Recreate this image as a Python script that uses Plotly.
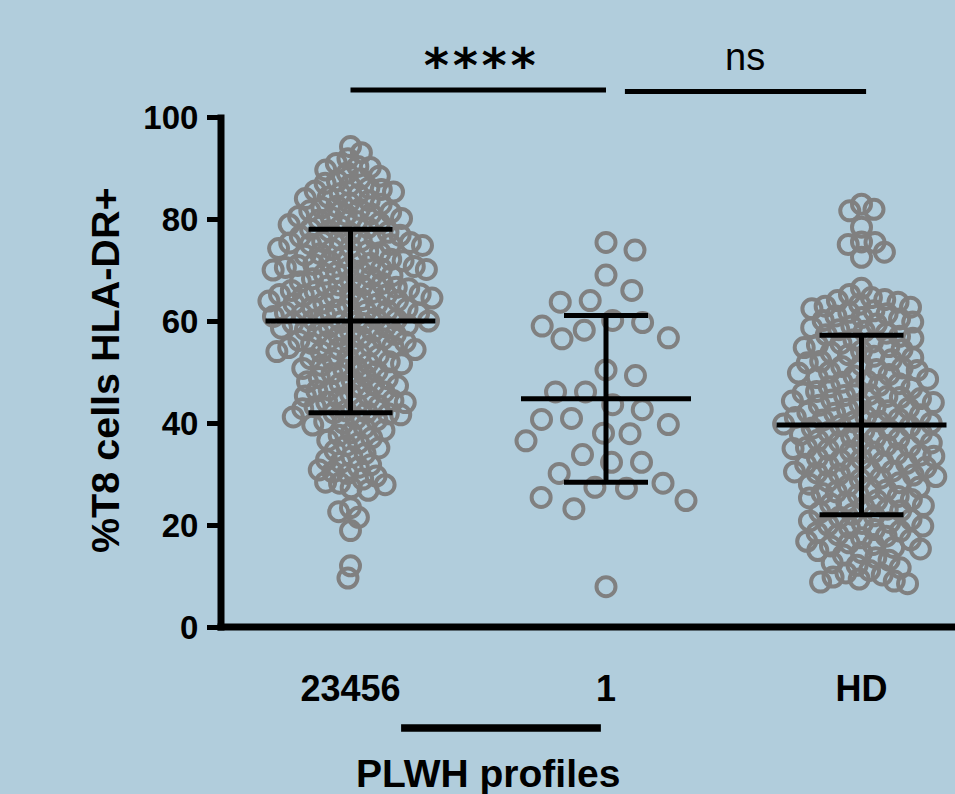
import math
import plotly.graph_objects as go

# ---------------- data ----------------
CATEGORIES = ["23456", "1", "HD"]

G_23456 = [
    94.2, 93.0, 91.8, 90.9, 90.3, 90.1,
    89.6, 89.0, 88.4, 87.9, 87.5, 87.0, 86.6, 86.1, 85.8, 85.5, 85.3, 85.0,
    84.8, 84.3, 84.0, 83.6, 83.2, 82.9, 82.5, 82.2, 81.9, 81.6, 81.3, 81.0, 80.8, 80.5, 80.3, 80.1,
    79.8, 79.5, 79.2, 78.9, 78.6, 78.3, 78.0, 77.7, 77.4, 77.1, 76.8, 76.6, 76.3, 76.0, 75.8, 75.6,
    75.4, 75.3, 75.1, 75.0,
    74.8, 74.5, 74.2, 74.0, 73.7, 73.4, 73.2, 72.9, 72.6, 72.3, 72.1, 71.8, 71.6, 71.3, 71.1, 70.9,
    70.7, 70.5, 70.4, 70.2, 70.1, 70.0,
    69.8, 69.5, 69.2, 68.9, 68.6, 68.3, 68.0, 67.7, 67.4, 67.1, 66.9, 66.8, 66.6, 66.3, 66.0, 65.8,
    65.6, 65.4, 65.3, 65.2, 65.1, 65.0,
    64.8, 64.5, 64.2, 64.0, 63.9, 63.6, 63.4, 63.3, 63.0, 62.7, 62.4, 62.1, 62.0, 61.9, 61.6, 61.5,
    61.3, 61.1, 60.9, 60.7, 60.5, 60.3, 60.2, 60.0,
    59.8, 59.6, 59.5, 59.2, 58.9, 58.8, 58.6, 58.3, 58.0, 57.9, 57.7, 57.4, 57.1, 56.8, 56.5, 56.2,
    56.0, 55.9, 55.6, 55.3, 55.1, 55.0,
    54.8, 54.6, 54.4, 54.0, 53.9, 53.6, 53.2, 52.8, 52.6, 52.4, 52.0, 51.8, 51.6, 51.3, 51.0, 50.7,
    50.4, 50.1,
    49.7, 49.3, 48.9, 48.7, 48.5, 48.1, 47.7, 47.5, 47.3, 46.9, 46.5, 46.3, 46.1, 45.7, 45.3, 45.0,
    44.8, 44.4, 44.1, 44.0, 43.6, 43.4, 43.2, 42.8, 42.4, 42.1, 42.0, 41.8, 41.6, 41.2, 40.9, 40.6,
    40.3, 40.0,
    39.6, 39.1, 38.6, 38.1, 37.6, 37.1, 36.6, 36.1, 35.6, 35.1,
    34.6, 34.0, 33.4, 32.8, 32.3, 31.8, 31.3, 30.8, 30.4, 30.1,
    29.6, 29.0, 28.4, 28.2, 27.9, 27.3, 26.8,
    23.4, 22.6, 21.5,
    18.9, 12.0, 9.6,
]

G_1 = [
    75.4, 73.9, 69.0, 66.0, 64.0, 63.7, 60.1, 59.0, 59.7, 58.2, 56.5, 56.7,
    50.4, 49.3, 46.1, 46.1, 43.6, 42.6, 39.7, 40.7, 40.9, 38.0, 37.9, 36.5,
    33.8, 32.3, 32.3, 30.1, 28.2, 27.2, 27.4, 25.4, 24.8, 23.2, 7.9,
]

G_HD = [
    82.9, 81.9, 81.6,
    78.4, 75.5, 75.4, 75.0,
    73.5, 72.5,
    66.4, 65.2,
    64.6, 64.2, 64.0, 63.7, 63.3, 62.9, 62.7, 62.4, 62.0, 61.7, 61.4, 61.0, 60.7, 60.4, 60.1,
    59.8, 59.4, 59.0, 58.7, 58.3, 58.0, 57.6, 57.3, 57.0, 56.6, 56.3, 55.9, 55.6, 55.3, 55.0,
    54.8, 54.4, 54.1, 53.8, 53.4, 53.1, 52.8, 52.4, 52.1, 51.8, 51.4, 51.1, 50.8, 50.5, 50.3, 50.0,
    49.8, 49.5, 49.2, 48.9, 48.6, 48.3, 48.0, 47.7, 47.4, 47.1, 46.8, 46.5, 46.2, 45.9, 45.6, 45.4,
    45.2, 45.0,
    44.8, 44.5, 44.3, 44.0, 43.7, 43.5, 43.2, 42.9, 42.7, 42.4, 42.1, 41.9, 41.6, 41.3, 41.1, 40.8,
    40.6, 40.4, 40.2, 40.0,
    39.8, 39.5, 39.3, 39.0, 38.7, 38.5, 38.2, 37.9, 37.7, 37.4, 37.1, 36.9, 36.6, 36.3, 36.1, 35.8,
    35.6, 35.4, 35.2, 35.0,
    34.8, 34.5, 34.3, 34.0, 33.7, 33.5, 33.2, 32.9, 32.7, 32.4, 32.1, 31.9, 31.6, 31.3, 31.1, 30.8,
    30.6, 30.4, 30.2, 30.0,
    29.8, 29.5, 29.2, 28.9, 28.6, 28.3, 28.0, 27.7, 27.4, 27.1, 26.8, 26.5, 26.2, 25.9, 25.6, 25.3,
    25.0,
    24.8, 24.5, 24.1, 23.8, 23.5, 23.1, 22.8, 22.5, 22.1, 21.8, 21.5, 21.1, 20.8, 20.5, 20.3, 20.0,
    19.8, 19.5, 19.1, 18.8, 18.5, 18.1, 17.8, 17.5, 17.1, 16.8, 16.5, 16.2, 15.9, 15.6, 15.3, 15.0,
    14.6, 14.1, 13.6, 13.1, 12.6, 12.1, 11.6, 11.1, 10.6, 10.2,
    9.8, 9.4, 9.0, 8.8, 8.5,
]

MEANS = [60.0, 44.75, 39.6]
SDS = [18.0, 16.35, 17.6]

Y_TICKS = [0, 20, 40, 60, 80, 100]
Y_TITLE = "%T8 cells HLA-DR+"
X_TITLE = "PLWH profiles"
SIG_LABELS = ["****", "ns"]

# ---------------- layout constants ----------------
W, H = 955, 794
ML, MR, MT, MB = 221, 0, 117, 167
PLOT_W = W - ML - MR
PLOT_H = H - MT - MB
CAT_PX = 255.5            # px between categories
FIRST_CAT_PX = 350.5      # pixel x of first category
X_RANGE = [(ML - FIRST_CAT_PX) / CAT_PX, (W - MR - FIRST_CAT_PX) / CAT_PX]
Y_RANGE = [0, 100]
PX_PER_Y = PLOT_H / (Y_RANGE[1] - Y_RANGE[0])
MEAN_LINE_PX = 170        # visible length of the mean bar

GREY = "rgb(128,128,128)"
BG = "rgb(177,205,220)"
FONT = "Arial, Liberation Sans, sans-serif"


def px_to_paper_y(py):
    return (H - MB - py) / PLOT_H


def px_to_paper_x(px):
    return (px - ML) / PLOT_W


def swarm(values, dmin, cap):
    """Greedy beeswarm in pixel space; returns x offsets in category units."""
    n = len(values)
    order = sorted(range(n), key=lambda i: -values[i])
    placed = []
    xs = [0.0] * n
    for k, i in enumerate(order):
        y = values[i] * PX_PER_Y
        neigh = [(px, py) for px, py in placed if abs(py - y) < dmin]
        cands = [0.0]
        for px, py in neigh:
            dx = math.sqrt(max(dmin ** 2 - (py - y) ** 2, 0.0))
            cands += [px - dx, px + dx]
        sgn = 1 if k % 2 == 0 else -1
        cands.sort(key=lambda c: (round(abs(c), 6), sgn * c))
        chosen = None
        for c in cands:
            if abs(c) > cap:
                continue
            if all((c - px) ** 2 + (y - py) ** 2 >= dmin ** 2 - 1e-6 for px, py in neigh):
                chosen = c
                break
        if chosen is None:
            best, bestd = 0.0, -1.0
            steps = int(cap)
            for s in range(-steps, steps + 1):
                c = s * cap / steps
                d = min(math.hypot(c - px, y - py) for px, py in neigh)
                if d > bestd + 1e-9 or (abs(d - bestd) < 1e-9 and abs(c) < abs(best)):
                    best, bestd = c, d
            chosen = best
        placed.append((chosen, y))
        xs[i] = chosen / CAT_PX
    return xs


GROUPS = [G_23456, G_1, G_HD]
SWARM_PARAMS = [(12.5, 85.0), (30.0, 80.0), (13.5, 82.0)]

fig = go.Figure()

for gi, (vals, (dmin, cap)) in enumerate(zip(GROUPS, SWARM_PARAMS)):
    offs = swarm(vals, dmin, cap)
    fig.add_trace(go.Scatter(
        x=[gi + o for o in offs], y=vals, mode="markers",
        marker=dict(symbol="circle-open", size=19, color=GREY,
                    line=dict(width=4, color=GREY)),
        showlegend=False, hoverinfo="y", cliponaxis=False,
    ))

# mean +/- SD  (plotly's line-ew symbol is 1.4 x size long)
fig.add_trace(go.Scatter(
    x=list(range(len(CATEGORIES))), y=MEANS, mode="markers",
    marker=dict(symbol="line-ew", size=MEAN_LINE_PX / 1.4, color="black",
                line=dict(width=5, color="black")),
    error_y=dict(type="data", array=SDS, visible=True, thickness=5, width=42, color="black"),
    showlegend=False, hoverinfo="y", cliponaxis=False,
))

shapes = [
    # x axis line
    dict(type="line", xref="paper", yref="paper", x0=-3.5 / PLOT_W, x1=1.0, y0=0, y1=0,
         line=dict(color="black", width=7)),
    # y axis line
    dict(type="line", xref="paper", yref="paper", x0=0, x1=0, y0=-3.5 / PLOT_H,
         y1=1 + 2.5 / PLOT_H, line=dict(color="black", width=7)),
    # significance bars
    dict(type="line", xref="x", yref="paper", x0=0.0, x1=1.0,
         y0=px_to_paper_y(90), y1=px_to_paper_y(90), line=dict(color="black", width=5)),
    dict(type="line", xref="x", yref="paper", x0=1.074, x1=2.018,
         y0=px_to_paper_y(91.5), y1=px_to_paper_y(91.5), line=dict(color="black", width=5)),
    # grouping bar under "23456" / "1"
    dict(type="line", xref="x", yref="paper", x0=0.198, x1=0.980,
         y0=px_to_paper_y(728), y1=px_to_paper_y(728), line=dict(color="black", width=7.5)),
]

annotations = [
    dict(text=SIG_LABELS[0], xref="x", yref="paper", x=0.507, y=px_to_paper_y(65),
         xanchor="center", yanchor="middle", showarrow=False,
         font=dict(family="DejaVu Sans Mono", size=48, color="black", weight="bold")),
    dict(text=SIG_LABELS[1], xref="x", yref="paper", x=1.544, y=px_to_paper_y(57),
         xanchor="center", yanchor="middle", showarrow=False,
         font=dict(family=FONT, size=38, color="black")),
    dict(text=Y_TITLE, xref="paper", yref="paper", x=px_to_paper_x(105), y=px_to_paper_y(371),
         xanchor="center", yanchor="middle", textangle=-90, showarrow=False,
         font=dict(family=FONT, size=39.5, color="black", weight="bold")),
    dict(text=X_TITLE, xref="paper", yref="paper", x=px_to_paper_x(488), y=px_to_paper_y(774),
         xanchor="center", yanchor="middle", showarrow=False,
         font=dict(family=FONT, size=39, color="black", weight="bold")),
]

fig.update_layout(
    width=W, height=H,
    margin=dict(l=ML, r=MR, t=MT, b=MB, pad=0),
    paper_bgcolor=BG, plot_bgcolor=BG,
    shapes=shapes, annotations=annotations,
    xaxis=dict(range=X_RANGE, tickvals=list(range(len(CATEGORIES))), ticktext=CATEGORIES,
               ticks="", showline=False, showgrid=False, zeroline=False,
               ticklabelstandoff=37,
               tickfont=dict(family=FONT, size=36, color="black", weight="bold")),
    yaxis=dict(range=Y_RANGE, tickvals=Y_TICKS, ticks="outside", ticklen=13, tickwidth=5,
               tickcolor="black", showline=False, showgrid=False, zeroline=False,
               ticklabelstandoff=2,
               tickfont=dict(family=FONT, size=33, color="black", weight="bold")),
    showlegend=False,
)

fig.write_html("out.html")
